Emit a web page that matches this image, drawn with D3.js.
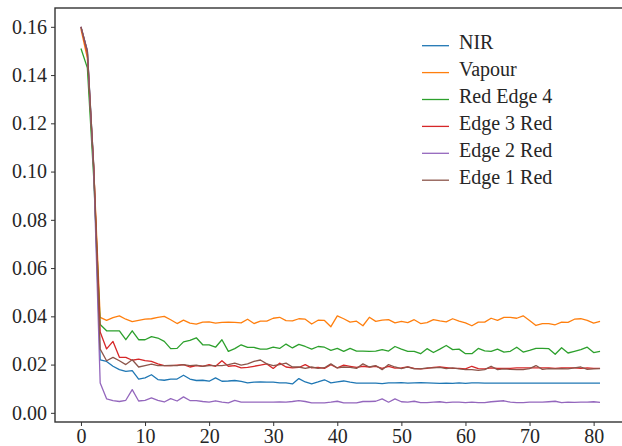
<!DOCTYPE html>
<html>
<head>
<meta charset="utf-8">
<script src="https://cdn.jsdelivr.net/npm/d3@7"></script>
<style>
  body { margin: 0; background: #fff; overflow: hidden; }
  svg text { font-family: "Liberation Serif", "DejaVu Serif", serif; fill: #262626; }
</style>
</head>
<body>
<div id="chart"></div>
<script>
var svgWidth = 622;
var svgHeight = 446;

// series values, one per x step (0..81)
var nir = [0.160, 0.150, 0.102, 0.0220, 0.0213, 0.0193, 0.0179, 0.0172, 0.0175, 0.0140,
  0.0145, 0.0158, 0.0138, 0.0135, 0.0140, 0.0140, 0.0156, 0.0140, 0.0134, 0.0135,
  0.0131, 0.0145, 0.0131, 0.0132, 0.0134, 0.0130, 0.0124, 0.0127, 0.0128, 0.0127,
  0.0127, 0.0124, 0.0124, 0.0120, 0.0142, 0.0128, 0.0120, 0.0128, 0.0137, 0.0124,
  0.0128, 0.0132, 0.0127, 0.0123, 0.0123, 0.0123, 0.0123, 0.0121, 0.0124, 0.0124,
  0.0125, 0.0123, 0.0124, 0.0125, 0.0124, 0.0123, 0.0122, 0.0123, 0.0122, 0.0124,
  0.0122, 0.0124, 0.0124, 0.0123, 0.0123, 0.0123, 0.0123, 0.0123, 0.0123, 0.0123,
  0.0123, 0.0123, 0.0123, 0.0123, 0.0123, 0.0123, 0.0123, 0.0123, 0.0123, 0.0123,
  0.0123, 0.0123];

var vapour = [0.159, 0.147, 0.101, 0.0396, 0.0383, 0.0395, 0.0402, 0.0388, 0.0378, 0.0383,
  0.0388, 0.0390, 0.0396, 0.0400, 0.0386, 0.0370, 0.0384, 0.0372, 0.0368, 0.0376,
  0.0377, 0.0372, 0.0375, 0.0376, 0.0375, 0.0373, 0.0388, 0.0370, 0.0380, 0.0380,
  0.0392, 0.0396, 0.0382, 0.0381, 0.0390, 0.0388, 0.0368, 0.0384, 0.0383, 0.0357,
  0.0402, 0.0390, 0.0376, 0.0380, 0.0361, 0.0396, 0.0379, 0.0384, 0.0386, 0.0373,
  0.0379, 0.0374, 0.0386, 0.0370, 0.0374, 0.0386, 0.0381, 0.0377, 0.0390, 0.0380,
  0.0373, 0.0361, 0.0376, 0.0376, 0.0392, 0.0383, 0.0396, 0.0396, 0.0392, 0.0402,
  0.0383, 0.0362, 0.0370, 0.0370, 0.0365, 0.0376, 0.0375, 0.0388, 0.0390, 0.0383,
  0.0372, 0.0379];

var redEdge4 = [0.151, 0.143, 0.097, 0.0366, 0.0340, 0.0340, 0.0340, 0.0303, 0.0340, 0.0303,
  0.0303, 0.0316, 0.0310, 0.0296, 0.0266, 0.0267, 0.0294, 0.0300, 0.0311, 0.0282,
  0.0282, 0.0272, 0.0303, 0.0255, 0.0266, 0.0282, 0.0271, 0.0271, 0.0264, 0.0264,
  0.0272, 0.0267, 0.0285, 0.0269, 0.0284, 0.0275, 0.0264, 0.0275, 0.0272, 0.0259,
  0.0267, 0.0255, 0.0267, 0.0256, 0.0256, 0.0255, 0.0256, 0.0262, 0.0256, 0.0275,
  0.0264, 0.0255, 0.0255, 0.0245, 0.0266, 0.0250, 0.0264, 0.0279, 0.0262, 0.0264,
  0.0245, 0.0245, 0.0267, 0.0257, 0.0255, 0.0264, 0.0252, 0.0255, 0.0272, 0.0252,
  0.0259, 0.0267, 0.0267, 0.0266, 0.0243, 0.0270, 0.0248, 0.0255, 0.0262, 0.0272,
  0.0250, 0.0255];

var edge3Red = [0.160, 0.149, 0.101, 0.0335, 0.0265, 0.0296, 0.0230, 0.0230, 0.0218, 0.0223,
  0.0216, 0.0213, 0.0203, 0.0196, 0.0196, 0.0198, 0.0200, 0.0190, 0.0196, 0.0193,
  0.0200, 0.0193, 0.0216, 0.0193, 0.0196, 0.0186, 0.0188, 0.0193, 0.0198, 0.0203,
  0.0184, 0.0206, 0.0190, 0.0186, 0.0188, 0.0200, 0.0186, 0.0188, 0.0184, 0.0200,
  0.0186, 0.0198, 0.0193, 0.0188, 0.0193, 0.0190, 0.0193, 0.0184, 0.0193, 0.0185,
  0.0186, 0.0190, 0.0184, 0.0182, 0.0184, 0.0188, 0.0190, 0.0187, 0.0184, 0.0184,
  0.0182, 0.0193, 0.0183, 0.0182, 0.0186, 0.0184, 0.0184, 0.0184, 0.0186, 0.0186,
  0.0186, 0.0186, 0.0186, 0.0186, 0.0184, 0.0186, 0.0186, 0.0186, 0.0184, 0.0186,
  0.0184, 0.0184];

var edge2Red = [0.160, 0.150, 0.100, 0.0124, 0.0058, 0.0051, 0.0047, 0.0052, 0.0096, 0.0049,
  0.0052, 0.0062, 0.0052, 0.0045, 0.0059, 0.0049, 0.0066, 0.0051, 0.0051, 0.0047,
  0.0044, 0.0050, 0.0044, 0.0041, 0.0052, 0.0044, 0.0044, 0.0044, 0.0044, 0.0044,
  0.0044, 0.0045, 0.0044, 0.0047, 0.0051, 0.0047, 0.0041, 0.0041, 0.0041, 0.0044,
  0.0048, 0.0041, 0.0041, 0.0041, 0.0047, 0.0047, 0.0048, 0.0058, 0.0044, 0.0058,
  0.0046, 0.0044, 0.0048, 0.0042, 0.0042, 0.0044, 0.0046, 0.0042, 0.0044, 0.0044,
  0.0042, 0.0044, 0.0042, 0.0042, 0.0046, 0.0048, 0.0050, 0.0044, 0.0042, 0.0042,
  0.0044, 0.0044, 0.0044, 0.0046, 0.0048, 0.0042, 0.0044, 0.0043, 0.0044, 0.0044,
  0.0046, 0.0043];

var edge1Red = [0.160, 0.150, 0.102, 0.0264, 0.0216, 0.0230, 0.0216, 0.0200, 0.0220, 0.0190,
  0.0196, 0.0202, 0.0196, 0.0196, 0.0197, 0.0196, 0.0200, 0.0196, 0.0198, 0.0193,
  0.0196, 0.0196, 0.0196, 0.0200, 0.0206, 0.0198, 0.0203, 0.0213, 0.0219, 0.0203,
  0.0196, 0.0200, 0.0206, 0.0190, 0.0190, 0.0184, 0.0190, 0.0184, 0.0187, 0.0203,
  0.0186, 0.0190, 0.0188, 0.0184, 0.0203, 0.0190, 0.0196, 0.0179, 0.0200, 0.0190,
  0.0183, 0.0190, 0.0182, 0.0182, 0.0186, 0.0186, 0.0188, 0.0183, 0.0186, 0.0182,
  0.0179, 0.0179, 0.0176, 0.0179, 0.0193, 0.0179, 0.0182, 0.0180, 0.0179, 0.0179,
  0.0183, 0.0196, 0.0180, 0.0183, 0.0182, 0.0183, 0.0182, 0.0186, 0.0190, 0.0180,
  0.0182, 0.0183];

var seriesNames = ["NIR", "Vapour", "Red Edge 4", "Edge 3 Red", "Edge 2 Red", "Edge 1 Red"];
var seriesColors = ["#1f77b4", "#ff7f0e", "#2ca02c", "#d62728", "#9467bd", "#8c564b"];
var seriesValues = [nir, vapour, redEdge4, edge3Red, edge2Red, edge1Red];

var xTicks = [0, 10, 20, 30, 40, 50, 60, 70, 80];
var yTicks = [0.00, 0.02, 0.04, 0.06, 0.08, 0.10, 0.12, 0.14, 0.16];

var serif = "'Liberation Serif', 'DejaVu Serif', serif";

var svg = d3.select("#chart")
  .append("svg")
  .attr("width", svgWidth)
  .attr("height", svgHeight);

// matplotlib-like limits (5% padding); right edge runs past the picture
var xScale = d3.scaleLinear()
  .domain([-4.05, 85.05])
  .range([55, 626]);

var yScale = d3.scaleLinear()
  .domain([-0.0038, 0.1678])
  .range([422, 8]);

// lines
var line = d3.line()
  .x((d, i) => xScale(i))
  .y(d => yScale(d));

seriesValues.forEach(function (vals, k) {
  svg.append("path")
    .datum(vals)
    .attr("fill", "none")
    .attr("stroke", seriesColors[k])
    .attr("stroke-width", 1.3)
    .attr("stroke-linejoin", "round")
    .attr("d", line);
});

// axes
var bottomAxis = d3.axisBottom(xScale)
  .tickValues(xTicks)
  .tickSize(4)
  .tickPadding(3)
  .tickFormat(d3.format("d"));

var leftAxis = d3.axisLeft(yScale)
  .tickValues(yTicks)
  .tickSize(4)
  .tickPadding(4)
  .tickFormat(d3.format(".2f"));

var xAxis = svg.append("g")
  .attr("transform", "translate(0, 422)")
  .call(bottomAxis);

var yAxis = svg.append("g")
  .attr("transform", "translate(55, 0)")
  .call(leftAxis);

[xAxis, yAxis].forEach(function (ax) {
  ax.attr("font-family", null).attr("font-size", null);
  ax.select(".domain").remove();
  ax.selectAll("line").attr("stroke", "#333").attr("stroke-width", 1);
  ax.selectAll("text")
    .style("font-family", serif)
    .style("font-size", "20px")
    .style("fill", "#262626");
});

// frame
svg.append("rect")
  .attr("x", 55)
  .attr("y", 8)
  .attr("width", 626 - 55)
  .attr("height", 422 - 8)
  .attr("fill", "none")
  .attr("stroke", "#333")
  .attr("stroke-width", 1.4);

// legend
var legend = svg.append("g")
  .attr("transform", "translate(422, 45.7)");

seriesNames.forEach(function (name, k) {
  var row = legend.append("g")
    .attr("transform", `translate(0, ${k * 26.9})`);
  row.append("line")
    .attr("x1", 0)
    .attr("x2", 27)
    .attr("y1", 0)
    .attr("y2", 0)
    .attr("stroke", seriesColors[k])
    .attr("stroke-width", 1.3);
  row.append("text")
    .attr("x", 37)
    .attr("y", 3.5)
    .style("font-family", serif)
    .style("font-size", "20px")
    .text(name);
});
</script>
</body>
</html>
